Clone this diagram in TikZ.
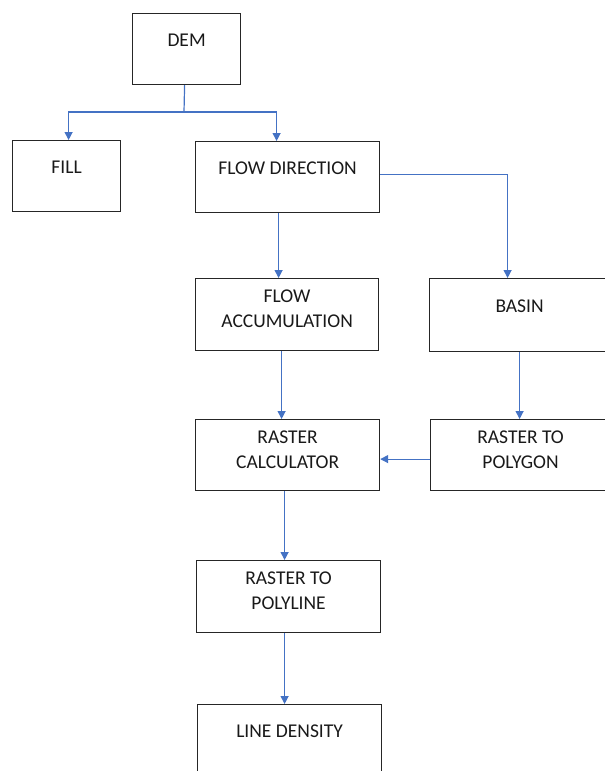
\documentclass[tikz,border=0pt]{standalone}
\usepackage{fontspec}
\setmainfont{Carlito}
\usetikzlibrary{arrows.meta}
\definecolor{flowblue}{HTML}{4472C4}
\tikzset{
  box/.style={draw=black!85, line width=1.2pt, anchor=north west, inner sep=0pt},
  txt/.style={anchor=center, align=center, text=black!90, font=\fontsize{19.5}{24.5}\selectfont},
  link/.style={draw=flowblue, line width=1.2pt},
  arr/.style={link, -{Triangle[width=8pt,length=8pt]}},
}

\begin{document}
\begin{tikzpicture}[x=1pt, y=-1pt]
    \useasboundingbox (0,0) rectangle (605,771);

    % Draw the boxes
    \node[box, minimum width=108pt, minimum height=71pt, label={[txt, yshift=-27pt]north:DEM}] (dem) at (132,13) {};
    \node[box, minimum width=108pt, minimum height=71pt, label={[txt, yshift=-27pt]north:FILL}] (fill) at (12,140) {};
    \node[box, minimum width=184pt, minimum height=71pt, label={[txt, yshift=-27pt]north:FLOW DIRECTION}] (flowdir) at (195,141) {};
    \node[box, minimum width=183pt, minimum height=72pt, label={[txt, yshift=-30.5pt]north:FLOW\\ACCUMULATION}] (flowacc) at (195,278) {};
    \node[box, minimum width=180pt, minimum height=73pt, label={[txt, yshift=-28pt]north:BASIN}] (basin) at (429,278) {};
    \node[box, minimum width=184pt, minimum height=71pt, label={[txt, yshift=-30.5pt]north:RASTER\\CALCULATOR}] (rcalc) at (195,419) {};
    \node[box, minimum width=180pt, minimum height=71pt, label={[txt, yshift=-30.5pt]north:RASTER TO\\POLYGON}] (rtopoly) at (430,419) {};
    \node[box, minimum width=184pt, minimum height=72pt, label={[txt, yshift=-30.5pt]north:RASTER TO\\POLYLINE}] (rtoline) at (196,560) {};
    \node[box, minimum width=184pt, minimum height=80pt, label={[txt, yshift=-27pt]north:LINE DENSITY}] (linedens) at (197,704) {};

    % Draw the connectors
    \coordinate (split) at (184,112);
    \draw[link] ([xshift=-2pt]dem.south) -- (split);
    \draw[arr] (split) -| ([xshift=2pt]fill.north);
    \draw[arr] (split) -| ([xshift=-11pt]flowdir.north);
    \draw[arr] ([yshift=3pt]flowdir.east) -| ([xshift=-12pt]basin.north);
    \draw[arr] ([xshift=-9pt]flowdir.south) -- ([xshift=-9pt]flowdir.south |- flowacc.north);
    \draw[arr] (basin.south) -- (basin.south |- rtopoly.north);
    \draw[arr] ([xshift=-5.5pt]flowacc.south) -- ([xshift=-5.5pt]flowacc.south |- rcalc.north);
    \draw[arr] ([yshift=-4pt]rtopoly.west) -- ([yshift=-4pt]rtopoly.west -| rcalc.east);
    \draw[arr] ([xshift=-3pt]rcalc.south) -- ([xshift=-3pt]rcalc.south |- rtoline.north);
    \draw[arr] ([xshift=-4pt]rtoline.south) -- ([xshift=-4pt]rtoline.south |- linedens.north);

\end{tikzpicture}
\end{document}
